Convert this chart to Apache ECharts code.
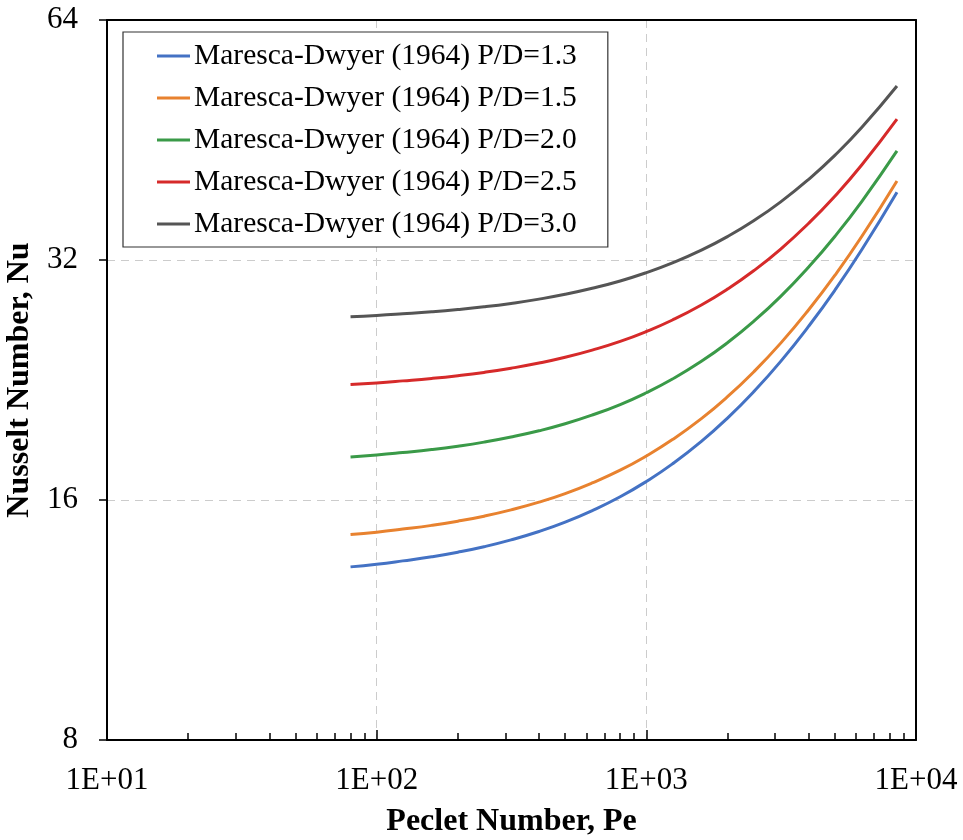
<!DOCTYPE html>
<html>
<head>
<meta charset="utf-8">
<script src="https://cdn.jsdelivr.net/npm/echarts@6/dist/echarts.min.js"></script>
<style>
html,body{margin:0;padding:0;background:#fff;}
#chart{width:963px;height:840px;}
</style>
</head>
<body>
<div id="chart"></div>
<script>
// Peclet numbers at which values were read
var pe = [80, 100, 125, 160, 200, 250, 315, 400, 500, 630, 800, 1000, 1250, 1600, 2000, 2500, 3150, 4000, 5000, 6300, 8500];
// Nusselt number per P/D curve
var nu13 = [13.19, 13.29, 13.42, 13.58, 13.76, 13.98, 14.26, 14.61, 15.01, 15.52, 16.15, 16.88, 17.76, 18.95, 20.27, 21.87, 23.88, 26.43, 29.32, 32.98, 38.92];
var nu15 = [14.48, 14.58, 14.71, 14.87, 15.05, 15.27, 15.55, 15.90, 16.30, 16.81, 17.44, 18.17, 19.05, 20.24, 21.56, 23.16, 25.17, 27.72, 30.61, 34.27, 40.21];
var nu20 = [18.12, 18.22, 18.35, 18.51, 18.69, 18.91, 19.19, 19.54, 19.94, 20.45, 21.08, 21.81, 22.69, 23.88, 25.20, 26.80, 28.81, 31.36, 34.25, 37.91, 43.85];
var nu25 = [22.34, 22.44, 22.57, 22.73, 22.91, 23.13, 23.41, 23.76, 24.16, 24.67, 25.30, 26.03, 26.91, 28.10, 29.42, 31.02, 33.03, 35.58, 38.47, 42.13, 48.07];
var nu30 = [27.16, 27.26, 27.39, 27.55, 27.73, 27.95, 28.23, 28.58, 28.98, 29.49, 30.12, 30.85, 31.73, 32.92, 34.24, 35.84, 37.85, 40.40, 43.29, 46.95, 52.89];

var seriesNames = [
  'Maresca-Dwyer (1964) P/D=1.3',
  'Maresca-Dwyer (1964) P/D=1.5',
  'Maresca-Dwyer (1964) P/D=2.0',
  'Maresca-Dwyer (1964) P/D=2.5',
  'Maresca-Dwyer (1964) P/D=3.0'
];
var seriesValues = [nu13, nu15, nu20, nu25, nu30];
var colors = ['#4472C4', '#E8822F', '#3A9A48', '#D62A2A', '#555555'];

// minor tick positions on the x axis
var minorTicks = [];
[10, 100, 1000].forEach(function (d) {
  for (var k = 2; k <= 9; k++) minorTicks.push(d * k);
});

var FONT = '"Liberation Serif", "Times New Roman", serif';

var chart = echarts.init(document.getElementById('chart'), null, {renderer: 'canvas'});

var series = seriesNames.map(function (name, i) {
  return {
    name: name,
    type: 'line',
    xAxisIndex: 0,
    yAxisIndex: 0,
    smooth: true,
    symbol: 'none',
    lineStyle: {width: 3, color: colors[i]},
    itemStyle: {color: colors[i]},
    data: pe.map(function (p, j) { return [p, seriesValues[i][j]]; })
  };
});

var dashed = {color: '#cccccc', width: 1, type: [8, 6]};

chart.setOption({
  animation: false,
  backgroundColor: '#fff',
  grid: {
    left: 107, right: 47, top: 20, bottom: 100,
    containLabel: false, outerBoundsMode: 'none',
    show: false
  },
  legend: {
    orient: 'vertical',
    left: 123, top: 32,
    padding: [8, 31, 7, 34],
    itemWidth: 33, itemHeight: 3, itemGap: 10,
    icon: 'rect',
    backgroundColor: '#fff',
    borderColor: '#333', borderWidth: 1.2,
    textStyle: {fontFamily: FONT, fontSize: 29.5, color: '#000', lineHeight: 32, padding: [0, 0, 0, -1]},
    data: seriesNames
  },
  xAxis: [{
    type: 'log', logBase: 10, min: 10, max: 10000,
    name: 'Peclet Number, Pe', nameLocation: 'middle', nameGap: 66,
    nameTextStyle: {fontFamily: FONT, fontSize: 32, fontWeight: 'bold', color: '#000'},
    axisLine: {show: true, onZero: false, lineStyle: {color: '#000', width: 2}},
    axisTick: {show: true, inside: true, length: 10, lineStyle: {color: '#000', width: 1.5}},
    minorTick: {show: false},
    axisLabel: {
      fontFamily: FONT, fontSize: 31, color: '#000', margin: 25,
      formatter: function (v) {
        var e = Math.round(Math.log10(v));
        return '1E+' + (e < 10 ? '0' : '') + e;
      }
    },
    splitLine: {show: true, showMinLine: false, showMaxLine: false, lineStyle: dashed}
  }, {
    type: 'log', logBase: 10, min: 10, max: 10000, position: 'bottom',
    axisLine: {show: false},
    axisLabel: {show: false},
    splitLine: {show: false},
    axisTick: {show: true, inside: true, length: 7, customValues: minorTicks, lineStyle: {color: '#000', width: 1.5}}
  }, {
    type: 'log', logBase: 10, min: 10, max: 10000, position: 'top',
    axisLine: {show: true, onZero: false, lineStyle: {color: '#000', width: 2}},
    axisTick: {show: false}, axisLabel: {show: false}, splitLine: {show: false}
  }],
  yAxis: [{
    type: 'log', logBase: 2, min: 8, max: 64,
    name: 'Nusselt Number, Nu', nameLocation: 'middle', nameGap: 60,
    nameTextStyle: {fontFamily: FONT, fontSize: 32, fontWeight: 'bold', color: '#000'},
    axisLine: {show: true, onZero: false, lineStyle: {color: '#000', width: 2}},
    axisTick: {show: true, inside: false, length: 8, lineStyle: {color: '#000', width: 1.5}},
    axisLabel: {
      fontFamily: FONT, fontSize: 31, color: '#000', margin: 29,
      formatter: function (v) { return String(Math.round(v)); }
    },
    splitLine: {show: true, showMinLine: false, showMaxLine: false, lineStyle: dashed}
  }, {
    type: 'log', logBase: 2, min: 8, max: 64, position: 'right',
    axisLine: {show: true, onZero: false, lineStyle: {color: '#000', width: 2}},
    axisTick: {show: false}, axisLabel: {show: false}, splitLine: {show: false}
  }],
  series: series
});
</script>
</body>
</html>
